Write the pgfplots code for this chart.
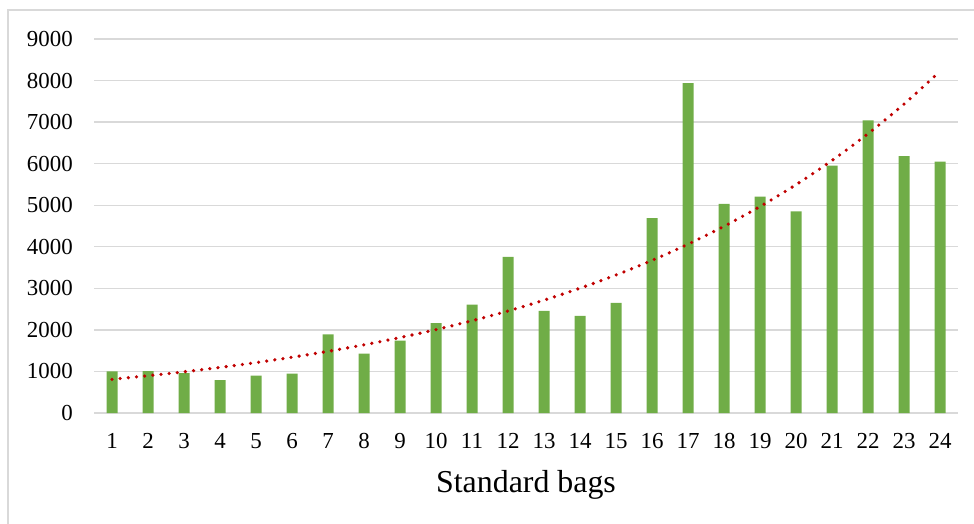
\documentclass[border=0pt]{standalone}
\usepackage{fontspec}
\setmainfont{Liberation Serif}
\usepackage{pgfplots}
\pgfplotsset{compat=1.18}
\definecolor{barGreen}{HTML}{70AD47}
\definecolor{trendRed}{HTML}{C00000}
\definecolor{gridGray}{HTML}{D9D9D9}
\begin{document}
\begin{tikzpicture}
\useasboundingbox (0,0) rectangle (974bp,-524bp);
% chart area border (right and bottom edges fall outside the page)
\draw[gridGray, line width=1.2bp] (8bp,-540bp) -- (8bp,-10bp) -- (990bp,-10bp);
\begin{axis}[
  at={(94bp,-413bp)}, anchor=south west,
  scale only axis, width=864bp, height=374bp,
  xmin=0.5, xmax=24.5, ymin=0, ymax=9000,
  xtick={1,...,24}, ytick={0,1000,...,9000},
  scaled y ticks=false,
  /pgf/number format/assume math mode=true,
  /pgf/number format/set thousands separator={},
  axis line style={draw=none},
  tick style={draw=none},
  major tick length=0pt,
  ymajorgrids,
  grid style={draw=gridGray, line width=1.3bp},
  ticklabel style={font=\fontsize{23}{23}\selectfont},
  yticklabel style={anchor=east, inner sep=0pt, xshift=-21bp},
  xticklabel style={anchor=base, inner sep=0pt, yshift=-35bp},
  xlabel={Standard bags},
  xlabel style={at={(axis description cs:0.5,0)}, anchor=base,
    inner sep=0pt, yshift=-79bp, font=\fontsize{32}{32}\selectfont},
  clip=false,
]
\addplot[ybar, bar width=11bp, fill=barGreen, draw=none] coordinates {
  (1,1000) (2,1010) (3,960) (4,790) (5,900) (6,950)
  (7,1890) (8,1430) (9,1740) (10,2160) (11,2610) (12,3760)
  (13,2460) (14,2340) (15,2650) (16,4690) (17,7940) (18,5030)
  (19,5210) (20,4850) (21,5955) (22,7040) (23,6180) (24,6050)
};
% exponential trend line
\addplot[smooth, trendRed, line width=3.6bp, line cap=round,
  dash pattern=on 0pt off 8.2bp] coordinates {
  (1,811) (2,897) (3,992) (4,1097) (5,1213) (6,1342)
  (7,1484) (8,1641) (9,1815) (10,2007) (11,2220) (12,2455)
  (13,2715) (14,3003) (15,3321) (16,3673) (17,4062) (18,4493)
  (19,4969) (20,5495) (21,6078) (22,6722) (23,7434) (24,8222)
};
\end{axis}
\end{tikzpicture}
\end{document}
